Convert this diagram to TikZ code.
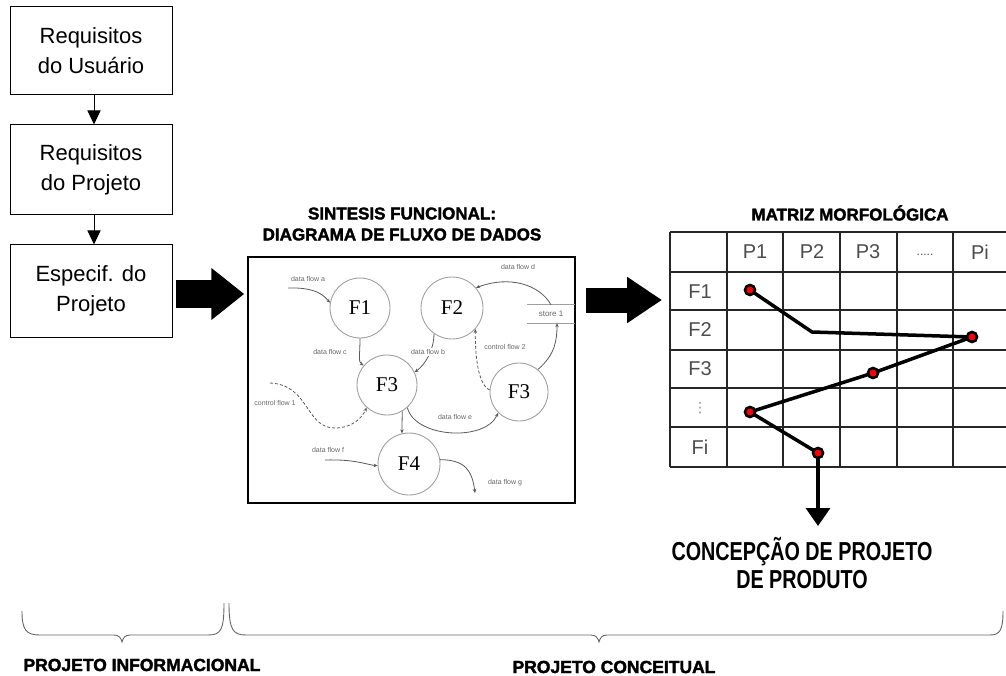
\documentclass[tikz,border=0pt]{standalone}
\usepackage{fontspec}
\setmainfont{Liberation Sans}
\newfontfamily\serifF{Liberation Serif}
\newfontfamily\dejavu{DejaVu Sans}
\newfontfamily\headF[FakeBold=2]{Liberation Sans}
\newfontfamily\condF[FakeStretch=0.76]{Liberation Sans}
\usetikzlibrary{arrows.meta}
\begin{document}
\begin{tikzpicture}[x=1pt,y=-1pt,
  reqbox/.style={draw, line width=1pt, minimum width=162pt, align=center, inner sep=0pt, font=\fontsize{22}{30}\selectfont},
  smallarrow/.style={line width=1pt, -{Triangle[length=14pt,width=13pt]}},
  bigarrow/.style={line width=28pt, -{Triangle[length=33pt,width=50pt]}},
  bigarrowb/.style={line width=25pt, -{Triangle[length=35pt,width=44pt]}},
  fcirc/.style={circle, draw=gray!75, line width=0.9pt, inner sep=0pt, font=\serifF\fontsize{21}{21}\selectfont},
  flow/.style={draw=gray!70!black, line width=0.8pt, -{Stealth[length=4pt,width=3.5pt]}},
  cflow/.style={flow, densely dashed},
  flabel/.style={font=\fontsize{7}{7}\selectfont, text=gray!80!black, inner sep=1pt},
  headtext/.style={font=\headF\bfseries\fontsize{17}{21}\selectfont, align=center},
  gridline/.style={line width=1.2pt, draw=black!85},
  mlabel/.style={font=\fontsize{20}{20}\selectfont, text=black!70},
  dot/.style={circle, fill=red, draw=black, line width=2.6pt, inner sep=0pt, minimum size=10pt},
  brace/.style={draw=gray!80!black, line width=0.9pt},
  phase/.style={font=\headF\bfseries\fontsize{17.5}{17.5}\selectfont}
]
\useasboundingbox (0,0) rectangle (1006,676);

% left column boxes
\node[reqbox, minimum height=88pt] (b1) at (91,51) {Requisitos\\do Usuário};
\node[reqbox, minimum height=90pt] (b2) at (91,170) {Requisitos\\do Projeto};
\node[reqbox, minimum height=92pt] (b3) at (91,291) {Especif. do\\Projeto};
\draw[smallarrow] ([xshift=3pt]b1.south) -- ([xshift=3pt]b2.north);
\draw[smallarrow] ([xshift=3pt]b2.south) -- ([xshift=3pt]b3.north);

% DFD panel
\node[headtext] (dfdtitle) at (402,224) {SINTESIS FUNCIONAL:\\DIAGRAMA DE FLUXO DE DADOS};
\node[draw, line width=1.5pt, minimum width=327pt, minimum height=246pt, inner sep=0pt] (dfd) at (411.5,380) {};
\draw[bigarrow] ([shift={(3,3)}]b3.east) -- ([shift={(-3,3)}]b3.east -| dfd.west);

\node[fcirc, minimum size=60pt] (F1) at (360,308) {F1};
\node[fcirc, minimum size=62pt] (F2) at (452,308) {F2};
\node[fcirc, minimum size=60pt] (F3a) at (387,385) {F3};
\node[fcirc, minimum size=58pt] (F3b) at (519,392) {F3};
\node[fcirc, minimum size=62pt] (F4) at (409,464) {F4};
\node[minimum width=48pt, minimum height=18pt, inner sep=0pt, font=\fontsize{8}{8}\selectfont, text=gray!80!black] (store) at (551,314) {store 1};
\draw[draw=gray!75, line width=0.9pt] (store.north west) -- (store.north east);
\draw[draw=gray!75, line width=0.9pt] (store.south west) -- (store.south east);

\coordinate (fa) at (288,288);
\coordinate (cf1) at (270,383);
\coordinate (ff) at (325,460);
\coordinate (fg) at (475,493);

\draw[flow] (fa) .. controls (318,287) and (325,297) .. (F1.170);
\draw[flow] (F1.270) .. controls (360,355) and (358,362) .. (F3a.140);
\draw[flow] (F2.235) .. controls (434,350) and (425,365) .. (F3a.25);
\draw[cflow] (cf1) .. controls (310,385) and (305,428) .. (335,428) .. controls (352,428) and (362,418) .. (F3a.228);
\draw[flow] (F3a.312) .. controls (415,438) and (485,442) .. (F3b.225);
\draw[cflow] (F3b.176) .. controls (478,385) and (475,355) .. (F2.318);
\draw[flow] (store.north) .. controls (540,285) and (510,275) .. (F2.40);
\draw[flow] (F3b.50) .. controls (555,355) and (557,340) .. ([xshift=6pt]store.south);
\draw[flow] (F3a.300) -- (F4.103);
\draw[flow] (ff) .. controls (355,459) and (368,465) .. (F4.183);
\draw[flow] (F4.8) .. controls (465,460) and (472,470) .. (fg);

\node[flabel] (la) at (308,279) {data flow a};
\node[flabel, fill=white] (lc) at (330,352) {data flow c};
\node[flabel, fill=white] (lb) at (428,352) {data flow b};
\node[flabel] (lcf1) at (275,403) {control flow 1};
\node[flabel] (le) at (455,417) {data flow e};
\node[flabel, fill=white] (lcf2) at (505,347) {control flow 2};
\node[flabel] (ld) at (518,267) {data flow d};
\node[flabel] (lf) at (328,450) {data flow f};
\node[flabel] (lg) at (505,483) {data flow g};

% arrow to matrix
\coordinate (a2s) at (586,300);
\coordinate (a2e) at (662,300);
\draw[bigarrowb] (a2s) -- (a2e);

% morphological matrix
\node[headtext] (mtitle) at (850,213) {MATRIZ MORFOLÓGICA};
\foreach \y in {232,272,310,350,388,427,467} \draw[gridline] (670,\y) -- (1006,\y);
\foreach \x in {670,727,783,840,897,953} \draw[gridline] (\x,232) -- (\x,467);

\node[mlabel] (hP1) at (755,252) {P1};
\node[mlabel] (hP2) at (812,252) {P2};
\node[mlabel] (hP3) at (868,252) {P3};
\node[mlabel, font=\fontsize{12}{12}\selectfont] (hPd) at (925,255) {.....};
\node[mlabel] (hPi) at (980,252) {Pi};
\node[mlabel] (hF1) at (700,292) {F1};
\node[mlabel] (hF2) at (700,330) {F2};
\node[mlabel] (hF3) at (700,369) {F3};
\node[mlabel, font=\dejavu\fontsize{14}{14}\selectfont, text=black!45, inner sep=0pt] (hFd) at (700,408) {⋮};
\node[mlabel] (hFi) at (700,447) {Fi};

\coordinate (p1) at (750,290);
\coordinate (pb) at (812,332);
\coordinate (p2) at (972,337);
\coordinate (p3) at (873,373);
\coordinate (p4) at (750,412);
\coordinate (p5) at (818,453);
\coordinate (p6) at (818,526);
\draw[line width=3.5pt, line join=round] (p1) -- (pb) -- (p2) -- (p3) -- (p4) -- (p5);
\draw[line width=3.5pt, -{Triangle[length=18pt,width=24pt]}] (p5) -- (p6);
\foreach \p in {p1,p2,p3,p4,p5} \node[dot] (dot\p) at (\p) {};

\node[font=\condF\bfseries\fontsize{26}{28}\selectfont, align=center, inner sep=0pt] (concept) at (802,563) {CONCEPÇÃO DE PROJETO\\DE PRODUTO};

% phase braces
\draw[brace] (22,611) .. controls (22,630) and (26,635) .. (40,635) -- (114,635) .. controls (119,635) and (121,638) .. (122,642) .. controls (123,638) and (125,635) .. (130,635) -- (208,635) .. controls (221,635) and (224,630) .. (224,603);
\draw[brace] (229,603) .. controls (229,630) and (233,635) .. (246,635) -- (591,635) .. controls (596,635) and (598,638) .. (599,642) .. controls (600,638) and (602,635) .. (607,635) -- (990,635) .. controls (1000,635) and (1003,630) .. (1003,611);
\node[phase, anchor=west] (pinf) at (20,665) {PROJETO INFORMACIONAL};
\node[phase] (pcon) at (614,667) {PROJETO CONCEITUAL};
\end{tikzpicture}
\end{document}
